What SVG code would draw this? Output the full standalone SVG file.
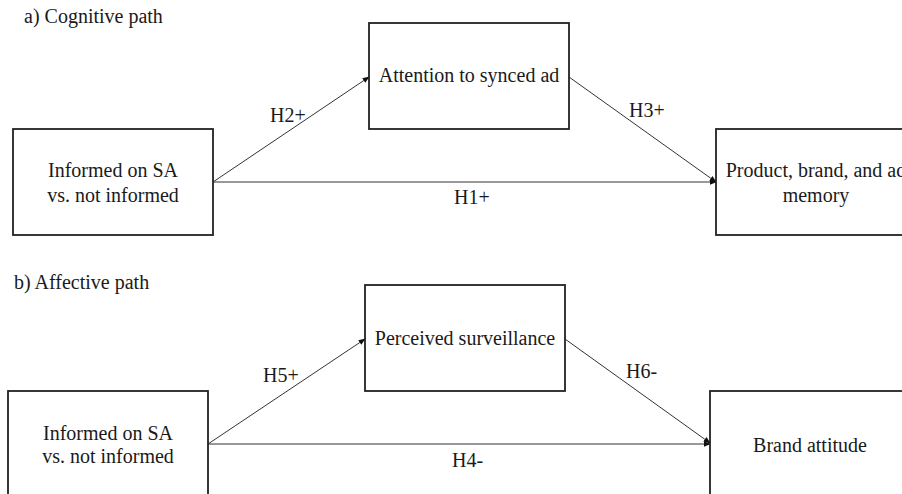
<svg xmlns="http://www.w3.org/2000/svg" width="902" height="494" viewBox="0 0 902 494">
<style>
text{font-family:'Liberation Serif','DejaVu Serif',Times,serif;font-size:20px;fill:#1a1a1a}
.box{fill:#fff;stroke:#222;stroke-width:1.8}
.c{text-anchor:middle}
.ln{stroke:#333;stroke-width:1;fill:none}
</style>
<defs>
<marker id="ah" viewBox="0 0 10 10" refX="9" refY="5" markerWidth="7" markerHeight="7" orient="auto" markerUnits="userSpaceOnUse">
<path d="M0,1 L10,5 L0,9 z" fill="#111"/>
</marker>
</defs>
<rect width="902" height="494" fill="#fff"/>
<text x="24" y="23">a) Cognitive path</text>
<text x="14" y="289">b) Affective path</text>
<g id="connectors">
<line class="ln" x1="213" y1="182" x2="369" y2="77" marker-end="url(#ah)"/>
<line class="ln" x1="213" y1="182" x2="716" y2="182" marker-end="url(#ah)"/>
<line class="ln" x1="569" y1="77" x2="716" y2="182" marker-end="url(#ah)"/>
<line class="ln" x1="208" y1="444" x2="365" y2="339" marker-end="url(#ah)"/>
<line class="ln" x1="208" y1="444" x2="710" y2="444" marker-end="url(#ah)"/>
<line class="ln" x1="565" y1="339" x2="710" y2="443" marker-end="url(#ah)"/>
<text x="270" y="122">H2+</text>
<text x="454" y="204">H1+</text>
<text x="629" y="117">H3+</text>
<text x="263" y="382">H5+</text>
<text x="452" y="467">H4-</text>
<text x="626" y="378">H6-</text>
</g>
<g id="informed-a">
<rect class="box" x="13" y="129" width="200" height="106"/>
<text class="c" x="113" y="177">Informed on SA</text>
<text class="c" x="113" y="202">vs. not informed</text>
</g>
<g id="attention">
<rect class="box" x="369" y="23" width="200" height="106"/>
<text class="c" x="469" y="82">Attention to synced ad</text>
</g>
<g id="memory">
<rect class="box" x="716" y="129" width="200" height="106"/>
<text class="c" x="816" y="177">Product, brand, and ad</text>
<text class="c" x="816" y="202">memory</text>
</g>
<g id="informed-b">
<rect class="box" x="8" y="391" width="200" height="110"/>
<text class="c" x="108" y="440">Informed on SA</text>
<text class="c" x="108" y="463">vs. not informed</text>
</g>
<g id="surveillance">
<rect class="box" x="365" y="285" width="200" height="106"/>
<text class="c" x="465" y="345">Perceived surveillance</text>
</g>
<g id="attitude">
<rect class="box" x="710" y="391" width="200" height="110"/>
<text class="c" x="810" y="452">Brand attitude</text>
</g>
</svg>
